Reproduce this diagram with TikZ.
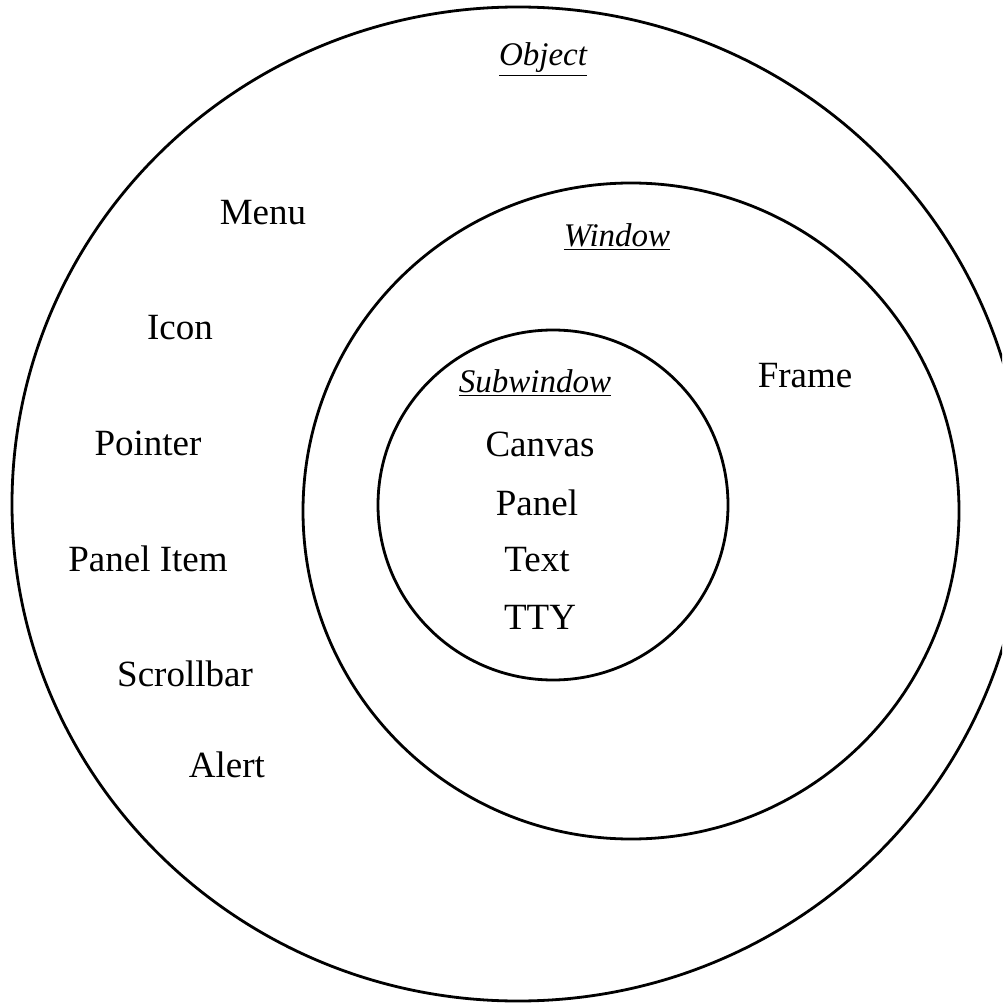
\documentclass[tikz,border=0pt]{standalone}
\usepackage{fontspec}
\setmainfont{Liberation Serif}
\usepackage{tikz}

\begin{document}
\begin{tikzpicture}[
  x=0.5pt,y=-0.5pt,
  ring/.style={draw=black,line width=1.4pt},
  item/.style={font=\fontsize{18.5}{22}\selectfont,inner sep=1pt},
  title/.style={item,font=\fontsize{16.5}{20}\selectfont\itshape}
]
\useasboundingbox (0,0) rectangle (1002,1004);
\clip (0,0) rectangle (1002,1004);
% rings
\draw[ring] (518,504) ellipse [x radius=506,y radius=497];
\draw[ring] (631,511) circle [radius=328];
\draw[ring] (553,505) circle [radius=175];
% outer ring
\node[title] (object) at (543,60) {\underline{Object}};
\node[item] (menu) at (263,213) {Menu};
\node[item] (icon) at (180,328) {Icon};
\node[item] (pointer) at (148,443) {Pointer};
\node[item] (panelitem) at (148,559) {Panel Item};
\node[item] (scrollbar) at (185,674) {Scrollbar};
\node[item] (alert) at (227,765) {Alert};
% window ring
\node[title] (window) at (617,237) {\underline{Window}};
\node[item] (frame) at (805,376) {Frame};
% subwindow ring
\node[title] (subwindow) at (535,383) {\underline{Subwindow}};
\node[item] (canvas) at (540,444) {Canvas};
\node[item] (panel) at (537,503) {Panel};
\node[item] (text) at (537,560) {Text};
\node[item] (tty) at (540,617) {TTY};
\end{tikzpicture}
\end{document}
